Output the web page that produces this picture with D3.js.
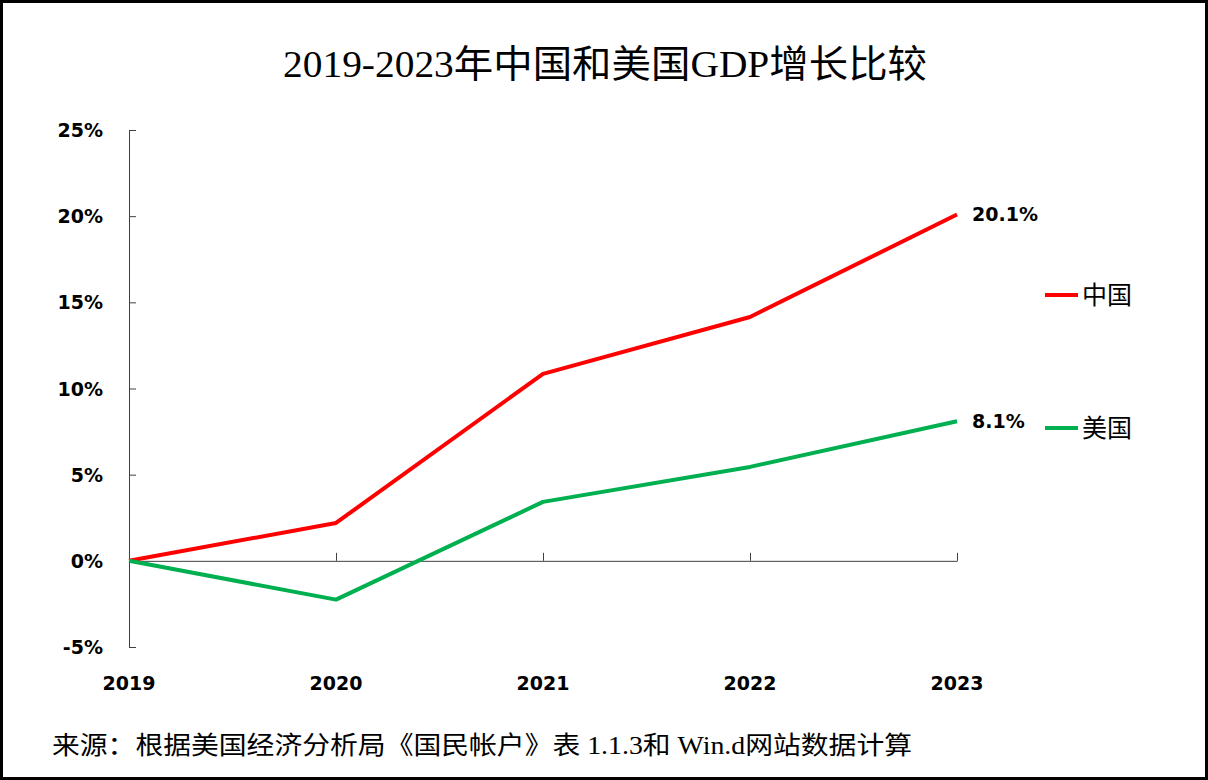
<!DOCTYPE html>
<html><head><meta charset="utf-8">
<script src="https://cdn.jsdelivr.net/npm/d3@7/dist/d3.min.js"></script>
<style>html,body{margin:0;padding:0;background:#fff;}svg{display:block;}</style>
</head><body>
<svg id="c" width="1208" height="780"></svg>
<script>
const years = [2019, 2020, 2021, 2022, 2023];
const chinaGrowth = [0, 2.2, 10.85, 14.15, 20.1];
const usGrowth = [0, -2.25, 3.42, 5.45, 8.1];
const yTicks = [-5, 0, 5, 10, 15, 20, 25];
const seriesNames = ["中国", "美国"];
const endLabels = ["20.1%", "8.1%"];
const titleText = "2019-2023年中国和美国GDP增长比较";
const sourceText = "来源：根据美国经济分析局《国民帐户》表 1.1.3和 Win.d网站数据计算";

const svg = d3.select("#c");
svg.append("rect").attr("x",1.5).attr("y",1.5).attr("width",1205).attr("height",777)
  .attr("fill","#fff").attr("stroke","#000").attr("stroke-width",3);

const x = d3.scalePoint().domain(years).range([129, 957]);
const y = d3.scaleLinear().domain([-5, 25]).range([647, 130]);

const cjkSerif = "'Liberation Serif','Noto Sans CJK SC',serif";
const boldSans = "'DejaVu Sans',Verdana,sans-serif";

svg.append("text").attr("x",605).attr("y",77).attr("text-anchor","middle")
  .attr("font-family",cjkSerif).attr("font-size",38).attr("fill","#000")
  .attr("textLength",644).attr("lengthAdjust","spacingAndGlyphs").text(titleText);

// y axis
const yAxis = d3.axisRight(y).tickValues(yTicks).tickSize(7).tickFormat("");
const gy = svg.append("g").attr("transform","translate(129,0)").call(yAxis);
gy.select(".domain").attr("stroke","#404040").attr("d","M7,130.5H0.5V647.5H7");
gy.selectAll(".tick line").attr("stroke","#404040");
svg.append("g").selectAll("text").data(yTicks).join("text")
  .attr("x",103).attr("y",d=>y(d)+7).attr("text-anchor","end")
  .attr("font-family",boldSans).attr("font-weight","bold").attr("font-size",19).attr("fill","#000")
  .text(d=>d+"%");

// x axis at 0
const xAxis = d3.axisTop(x).tickSize(8).tickFormat("");
const gx = svg.append("g").attr("transform",`translate(0,${y(0)})`).call(xAxis);
gx.select(".domain").attr("stroke","#404040").attr("d",`M129,0.5H957.5`);
gx.selectAll(".tick line").attr("stroke","#404040");
svg.append("g").selectAll("text").data(years).join("text")
  .attr("x",d=>x(d)).attr("y",690).attr("text-anchor","middle")
  .attr("font-family",boldSans).attr("font-weight","bold").attr("font-size",19).attr("fill","#000")
  .text(d=>d);

const colors = ["#ff0000", "#00b050"];
const seriesData = [chinaGrowth, usGrowth];
const line = d3.line().x((d,i)=>x(years[i])).y(d=>y(d));
seriesData.forEach((s,k)=>{
  svg.append("path").datum(s).attr("d",line).attr("fill","none")
    .attr("stroke",colors[k]).attr("stroke-width",4).attr("stroke-linejoin","round");
  svg.append("text").attr("x",972).attr("y",y(s[s.length-1])+7)
    .attr("font-family",boldSans).attr("font-weight","bold").attr("font-size",19).attr("fill","#000")
    .text(endLabels[k]);
});

// legend
const legendY = [295, 428];
seriesNames.forEach((n,k)=>{
  svg.append("line").attr("x1",1045).attr("x2",1078).attr("y1",legendY[k]).attr("y2",legendY[k])
    .attr("stroke",colors[k]).attr("stroke-width",4);
  svg.append("text").attr("x",1082).attr("y",legendY[k]+9)
    .attr("font-family",cjkSerif).attr("font-size",25).attr("fill","#000").text(n);
});

svg.append("text").attr("x",52).attr("y",754)
  .attr("font-family",cjkSerif).attr("font-size",25).attr("fill","#000")
  .attr("textLength",860).attr("lengthAdjust","spacingAndGlyphs").text(sourceText);
</script>
</body></html>
